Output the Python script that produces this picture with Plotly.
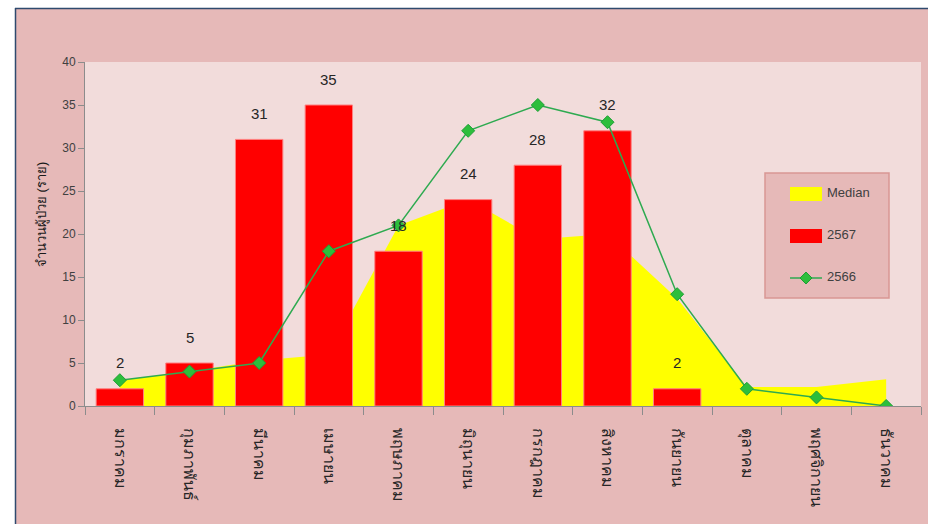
import plotly.graph_objects as go

months = ["มกราคม", "กุมภาพันธ์", "มีนาคม", "เมษายน", "พฤษภาคม", "มิถุนายน",
          "กรกฎาคม", "สิงหาคม", "กันยายน", "ตุลาคม", "พฤศจิกายน", "ธันวาคม"]
median_vals = [3, 4, 5.3, 6, 21, 24, 19.4, 20, 12.5, 2.2, 2.2, 3.1]
cases_2567 = [2, 5, 31, 35, 18, 24, 28, 32, 2, None, None, None]
cases_2566 = [3, 4, 5, 18, 21, 32, 35, 33, 13, 2, 1, 0]

W, H = 928, 524
ML, MR, MT, MB = 85, 7, 62, 118
pw, ph = W - ML - MR, H - MT - MB
FONT = "Liberation Sans Narrow, Liberation Sans, sans-serif"

def px_x(x):
    return (x - ML) / pw

def px_y(y):
    return (H - MB - y) / ph

fig = go.Figure()
# Median area (bottom subplot, drawn behind the bars)
fig.add_trace(go.Scatter(
    x=months, y=median_vals, name="Median", mode="none",
    fill="tozeroy", fillcolor="#FFFF00", showlegend=False,
    xaxis="x", yaxis="y",
))
# Bars and line on overlaid axes so they are drawn above the area
fig.add_trace(go.Bar(
    x=months, y=cases_2567, name="2567", width=0.68,
    marker=dict(color="#FF0000", line=dict(color="#FF8080", width=1)),
    showlegend=False, xaxis="x2", yaxis="y2",
))
fig.add_trace(go.Scatter(
    x=months, y=cases_2566, name="2566", mode="lines+markers",
    line=dict(color="#2EAA50", width=1.5),
    marker=dict(symbol="diamond", size=10, color="#2DBE3C",
                line=dict(color="#1E9E36", width=1)),
    showlegend=False, xaxis="x2", yaxis="y2",
))

for m, v in zip(months, cases_2567):
    if v is not None:
        fig.add_annotation(x=m, y=v, xref="x2", yref="y2", text=str(v), showarrow=False,
                           yanchor="middle", yshift=26,
                           font=dict(size=15, color="#262626", family=FONT))

def prect(x0, y0, x1, y1, fill, line_color=None, lw=0, layer="above"):
    return dict(type="rect", xref="paper", yref="paper",
                x0=px_x(x0), x1=px_x(x1), y0=px_y(y1), y1=px_y(y0),
                fillcolor=fill, line=dict(color=line_color or fill, width=lw), layer=layer)

def pline(x0, y0, x1, y1, color, lw):
    return dict(type="line", xref="paper", yref="paper",
                x0=px_x(x0), x1=px_x(x1), y0=px_y(y0), y1=px_y(y1),
                line=dict(color=color, width=lw), layer="above")

shapes = [
    prect(0, 0, 15, H, "white"),
    prect(0, 0, W, 8, "white"),
    pline(15.5, 8, 15.5, H, "#2F4A6E", 1.5),
    pline(15, 8.5, W, 8.5, "#2F4A6E", 1.5),
    # custom legend
    prect(765, 173, 889, 298, "#E6B9B8", "#D99694", 1.5),
    prect(790, 187, 822, 201, "#FFFF00"),
    prect(790, 229, 822, 243, "#FF0000"),
    pline(790, 278, 822, 278, "#2EAA50", 1.5),
    dict(type="path", xref="paper", yref="paper",
         path=f"M {px_x(806)},{px_y(272)} L {px_x(812)},{px_y(278)} L {px_x(806)},{px_y(284)} L {px_x(800)},{px_y(278)} Z",
         fillcolor="#2DBE3C", line=dict(color="#1E9E36", width=1), layer="above"),
]

legend_texts = [("Median", 192), ("2567", 234), ("2566", 276)]
for txt, yy in legend_texts:
    fig.add_annotation(xref="paper", yref="paper", x=px_x(825), y=px_y(yy),
                       xanchor="left", yanchor="middle", text=txt, showarrow=False,
                       font=dict(size=13, color="#404040", family=FONT))

# y-axis title
fig.add_annotation(xref="paper", yref="paper", x=px_x(42), y=px_y(215),
                   xanchor="center", yanchor="middle", textangle=-90,
                   text="จำนวนผู้ป่วย (ราย)", showarrow=False,
                   font=dict(size=13, color="#1A1A1A", family=FONT))

axis_common = dict(showgrid=False, fixedrange=True)
fig.update_layout(
    width=W, height=H, autosize=False,
    margin=dict(l=ML, r=MR, t=MT, b=MB, pad=0),
    paper_bgcolor="#E6B9B8", plot_bgcolor="#F2DCDB",
    font=dict(family=FONT, color="#404040", size=12),
    barmode="overlay",
    showlegend=False,
    shapes=shapes,
    xaxis=dict(
        type="category", range=[-0.5, 11.5], tickson="boundaries",
        ticks="outside", ticklen=8, tickcolor="#8C8C8C", tickangle=90,
        ticklabelstandoff=18,
        showline=True, linecolor="#8C8C8C", linewidth=1,
        tickfont=dict(size=16, color="#262626"), **axis_common,
    ),
    yaxis=dict(
        range=[0, 40], dtick=5, ticks="outside", ticklen=6, tickcolor="#8C8C8C",
        showline=True, linecolor="#8C8C8C", linewidth=1,
        zeroline=False, tickfont=dict(size=12, color="#404040"),
        **axis_common,
    ),
    xaxis2=dict(type="category", range=[-0.5, 11.5], overlaying="x", visible=False,
                categoryorder="array", categoryarray=months, **axis_common),
    yaxis2=dict(range=[0, 40], overlaying="y", visible=False, zeroline=False, **axis_common),
)

fig.write_html("out.html", config={"displayModeBar": False},
               post_script="document.body.style.margin='0px';")
